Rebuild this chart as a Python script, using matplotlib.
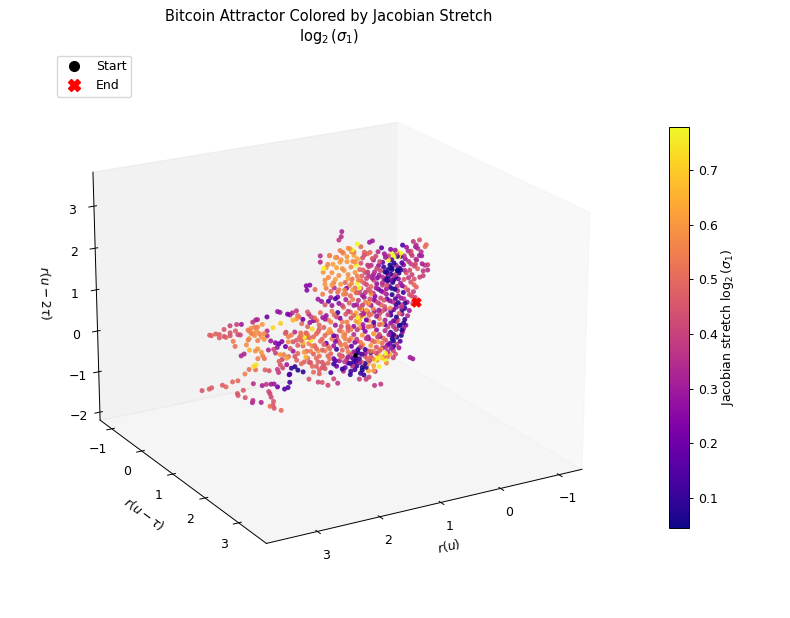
import numpy as np
import matplotlib
matplotlib.use("Agg")
import matplotlib.pyplot as plt

plt.rcParams["font.size"] = 9
plt.rcParams["axes.linewidth"] = 0.7
plt.rcParams["xtick.major.width"] = 0.7
plt.rcParams["ytick.major.width"] = 0.7
plt.rcParams["xtick.major.size"] = 3.1
plt.rcParams["ytick.major.size"] = 3.1

# values, grouped by region of the attractor
tail_x = [2.99, 2.87, 2.83, 2.65, 2.59, 2.48, 2.39, 2.40, 2.39, 2.30,
          2.27, 2.13, 2.14, 2.15, 2.00, 1.98, 1.91, 1.83, 1.78, 1.72,
          1.87, 1.85, 1.83, 1.79, 1.80, 1.85, 1.78, 1.66, 1.60, 1.54,
          1.51, 1.51]
tail_z = [-1.04, -1.04, -1.02, -1.01, -1.07, -0.98, -0.98, -1.29, -1.34, -1.24,
          -1.43, -1.13, -1.54, -1.59, -1.63, -1.22, -1.21, -1.23, -1.24, -1.33,
          -1.40, -1.46, -1.55, -1.67, -1.76, -1.77, -1.84, -1.93, -1.42, -1.40,
          -1.28, -1.08]
tail_c = [0.45, 0.47, 0.47, 0.47, 0.5, 0.5, 0.5, 0.45, 0.45, 0.47,
          0.45, 0.36, 0.36, 0.33, 0.33, 0.32, 0.38, 0.3, 0.3, 0.22,
          0.42, 0.42, 0.42, 0.45, 0.45, 0.52, 0.45, 0.5, 0.15, 0.15,
          0.12, 0.1]

wing_x = [2.85, 2.82, 2.75, 2.69, 2.69, 2.61, 2.61, 2.58, 2.51, 2.51,
          2.51, 2.40, 2.32, 2.42, 2.38, 2.34, 2.46, 2.43, 2.33, 2.28,
          2.24, 2.21, 2.21, 2.16, 2.13, 2.08, 2.05, 1.97, 2.10, 2.05,
          2.16, 2.10, 2.02, 1.94, 1.89, 1.79, 1.66, 1.89, 1.71, 1.67,
          1.54, 1.50, 1.46, 1.39, 1.37, 1.45, 1.39, 1.20, 1.16, 1.22,
          1.16, 1.21,
          2.19, 2.13, 2.19, 2.07, 1.99, 2.05, 1.94, 1.89, 1.57, 1.48,
          1.39, 1.31, 1.23, 1.28, 1.26, 1.42, 1.53, 1.64, 1.67, 1.75]
wing_z = [0.26, 0.24, 0.26, 0.23, 0.15, 0.33, 0.16, 0.13, 0.39, 0.22,
          0.15, 0.39, 0.37, 0.24, 0.14, 0.12, 0.0, -0.13, -0.39, -0.36,
          -0.15, -0.04, 0.20, 0.23, 0.37, 0.41, 0.41, 0.27, 0.24, 0.23,
          0.11, 0.04, 0.06, 0.04, 0.09, 0.14, 0.21, 0.43, 0.51, 0.48,
          0.40, 0.37, 0.41, 0.44, 0.32, 0.23, 0.24, 0.36, 0.09, 1.0,
          1.0, 0.89,
          0.18, 0.09, -0.01, 0.14, -0.03, -0.10, -0.10, -0.03, -0.03, -0.13,
          -0.28, -0.19, -0.15, -0.37, -0.85, -0.67, -0.64, -0.68, -0.80, -0.49]
wing_c = [0.48, 0.48, 0.48, 0.48, 0.48, 0.45, 0.45, 0.5, 0.4, 0.45,
          0.45, 0.4, 0.3, 0.48, 0.42, 0.42, 0.55, 0.52, 0.33, 0.33,
          0.58, 0.55, 0.55, 0.58, 0.37, 0.33, 0.35, 0.6, 0.55, 0.55,
          0.55, 0.57, 0.55, 0.57, 0.35, 0.72, 0.7, 0.2, 0.28, 0.3,
          0.22, 0.3, 0.35, 0.38, 0.55, 0.66, 0.6, 0.48, 0.28, 0.25,
          0.25, 0.25,
          0.55, 0.58, 0.6, 0.58, 0.6, 0.55, 0.6, 0.33, 0.45, 0.55,
          0.48, 0.55, 0.5, 0.65, 0.48, 0.45, 0.5, 0.42, 0.45, 0.4]

low_x = [2.19, 2.09, 2.05, 1.99, 1.97, 2.05, 1.94, 1.87, 1.83, 1.75,
         1.69, 1.64, 1.58, 1.50, 1.45, 1.37, 1.31, 1.23, 1.17, 1.26,
         1.23, 1.37, 1.39, 1.31, 1.17, 1.48, 1.42, 1.37, 1.28, 1.52,
         1.93, 1.86, 1.72, 1.70, 1.63, 1.56, 1.56, 1.69, 1.61, 2.12,
         2.08, 2.20, 2.09, 2.27, 1.78, 1.72, 1.67, 1.58, 1.53, 1.42,
         1.34, 1.45, 1.53]
low_z = [-0.29, -0.34, -0.30, -0.40, -0.49, -0.54, -0.57, -0.38, -0.17, -0.24,
         -0.28, -0.24, -0.38, -0.45, -0.53, -0.41, -0.31, -0.25, -0.28, -0.61,
         -0.74, -0.61, -0.77, -0.88, -0.89, -0.94, -0.92, -1.02, -1.09, -1.09,
         -0.85, -0.89, -0.90, -0.98, -0.89, -0.67, -0.83, -0.71, -0.57, -0.71,
         -0.68, -0.76, -0.80, -0.85, -0.39, -0.36, -0.55, -0.06, -0.15, -0.07,
         -0.22, -0.30, -0.28]
low_c = [0.66, 0.58, 0.6, 0.6, 0.55, 0.55, 0.52, 0.33, 0.3, 0.25,
         0.2, 0.25, 0.2, 0.45, 0.3, 0.48, 0.5, 0.48, 0.5, 0.6,
         0.65, 0.5, 0.48, 0.5, 0.45, 0.1, 0.08, 0.07, 0.08, 0.15,
         0.48, 0.45, 0.4, 0.38, 0.42, 0.62, 0.3, 0.48, 0.55, 0.72,
         0.74, 0.52, 0.52, 0.55, 0.4, 0.28, 0.6, 0.5, 0.55, 0.35,
         0.5, 0.45, 0.58]

patch_x = [0.93, 0.90, 0.85, 0.82, 0.78, 0.75, 0.72, 0.70, 0.66, 0.62,
           0.60, 0.57, 0.55, 0.52, 0.50, 0.47, 0.45, 0.43, 0.40, 0.38,
           0.88, 0.80, 0.74, 0.68, 0.63, 0.58, 0.53, 0.48, 0.42, 0.36,
           1.02, 0.96, 0.90, 0.84, 0.78, 0.72, 0.66, 0.60, 0.54, 0.48,
           0.70, 0.64, 0.58, 0.50, 0.44, 0.40, 0.34, 0.28, 0.22, 0.16,
           0.61, 0.62, 0.66, 0.08, 0.13, -0.64, -0.75, -0.87, -0.85, 1.07,
           0.98, 0.98, 0.82, -0.85, -0.90, -0.90, -0.79, -0.69, -0.82, -0.69,
           -0.60,
           0.88, 0.76, 0.64, 0.52, 0.42, 0.84, 0.72, 0.60, 0.50, 0.38,
           0.94, 0.80, 0.68, 0.56, 0.46, 0.90, 0.78, 0.66, 0.54, 0.44]
patch_z = [1.25, 1.05, 1.42, 1.62, 1.20, 0.95, 1.55, 1.30, 1.10, 1.47,
           1.65, 1.20, 0.90, 1.40, 1.08, 1.70, 1.25, 0.95, 1.52, 1.10,
           0.85, 0.75, 0.82, 0.70, 0.88, 0.62, 0.75, 0.80, 0.68, 0.60,
           0.62, 0.55, 0.45, 0.52, 0.40, 0.55, 0.42, 0.35, 0.48, 0.38,
           1.55, 1.70, 1.62, 1.72, 1.62, 1.60, 1.42, 1.70, 1.55, 1.50,
           2.15, 2.03, 1.96, 1.79, 1.77, 1.59, 1.60, 1.45, 1.41, 0.87,
           1.66, 1.51, 1.63, 0.95, 0.82, 0.95, 1.20, 1.14, 0.70, 1.49,
           1.36,
           1.35, 1.40, 1.42, 1.52, 1.38, 1.10, 1.02, 1.25, 0.98, 1.35,
           0.72, 0.60, 0.58, 0.72, 0.55, 0.95, 0.90, 0.75, 0.62, 0.85]
patch_c = [0.6, 0.58, 0.57, 0.55, 0.6, 0.55, 0.6, 0.62, 0.58, 0.6,
           0.55, 0.6, 0.5, 0.6, 0.58, 0.6, 0.58, 0.52, 0.62, 0.6,
           0.55, 0.5, 0.35, 0.5, 0.6, 0.55, 0.25, 0.55, 0.6, 0.5,
           0.3, 0.28, 0.45, 0.15, 0.3, 0.12, 0.28, 0.42, 0.33, 0.48,
           0.5, 0.55, 0.6, 0.58, 0.55, 0.55, 0.62, 0.5, 0.48, 0.5,
           0.33, 0.35, 0.38, 0.3, 0.3, 0.38, 0.45, 0.5, 0.52, 0.5,
           0.35, 0.35, 0.55, 0.38, 0.35, 0.4, 0.3, 0.35, 0.4, 0.35,
           0.45,
           0.6, 0.62, 0.6, 0.6, 0.58, 0.58, 0.62, 0.58, 0.62, 0.58,
           0.55, 0.3, 0.25, 0.55, 0.5, 0.6, 0.6, 0.55, 0.52, 0.58]

core_x = [0.25, 0.12, 0.02, -0.08, -0.20, -0.32, -0.45, -0.55, -0.68, -0.78,
          0.30, 0.20, 0.10, 0.00, -0.10, -0.20, -0.30, -0.40, -0.50, -0.60,
          -0.70, -0.80, 0.32, 0.22, 0.14, 0.05, -0.04, -0.14, -0.24, -0.33,
          -0.42, -0.52, -0.62, -0.72, -0.82, 0.35, 0.25, 0.15, 0.06, -0.03,
          -0.12, -0.22, -0.32, -0.42, -0.50, -0.60, -0.70, 0.40, 0.30, 0.20,
          0.10, 0.02, -0.08, -0.18, -0.28, -0.38, -0.48, -0.58, -0.68, 0.45,
          0.36, 0.27, 0.18, 0.09, 0.00, -0.10, -0.20, -0.30, -0.40, -0.50,
          -0.58, 0.50, 0.40, 0.30, 0.20, 0.10, 0.00, -0.10, -0.20, -0.30,
          -0.40, -0.50, 0.55, 0.44, 0.34, 0.24, 0.14, 0.04, -0.06, -0.16,
          -0.26, -0.36, -0.46, 0.50, 0.42, 0.32, 0.20, 0.10, 0.00, -0.10,
          -0.20, -0.30, -0.40, 0.55, 0.45, 0.35, 0.25, 0.15, 0.05, -0.05,
          -0.15, -0.30, -0.60, -0.65, 0.30, 0.18, 0.13, 0.03, -0.08]
core_z = [1.42, 1.52, 1.40, 1.58, 1.35, 1.46, 1.55, 1.38, 1.45, 1.30,
          1.15, 1.05, 1.20, 1.10, 1.22, 1.02, 1.15, 1.00, 1.20, 1.05,
          1.12, 1.00, 0.90, 0.80, 0.95, 0.82, 0.92, 0.78, 0.90, 0.80,
          0.95, 0.85, 0.78, 0.90, 0.82, 0.60, 0.50, 0.62, 0.50, 0.58,
          0.48, 0.60, 0.50, 0.62, 0.50, 0.60, 0.45, 0.30, 0.20, 0.32,
          0.22, 0.30, 0.18, 0.30, 0.20, 0.32, 0.22, 0.30, 0.20, 0.00,
          -0.10, 0.02, -0.12, 0.00, -0.08, 0.02, -0.10, 0.00, -0.12, -0.02,
          -0.10, -0.30, -0.42, -0.28, -0.40, -0.30, -0.42, -0.30, -0.40, -0.28,
          -0.42, -0.30, -0.62, -0.70, -0.60, -0.72, -0.60, -0.70, -0.60, -0.72,
          -0.62, -0.70, -0.60, -0.95, -1.00, -0.90, -1.02, -0.92, -1.00, -0.90,
          -1.02, -0.92, -0.98, -1.20, -1.32, -1.22, -1.35, -1.22, -1.30, -1.35,
          -1.20, -1.02, -1.28, -1.33, -1.56, -1.60, -1.56, -1.80, -1.80]
core_c = [0.45, 0.5, 0.42, 0.15, 0.4, 0.3, 0.15, 0.35, 0.3, 0.35,
          0.5, 0.42, 0.35, 0.4, 0.2, 0.07, 0.07, 0.1, 0.3, 0.4,
          0.35, 0.32, 0.55, 0.45, 0.35, 0.42, 0.3, 0.1, 0.05, 0.07,
          0.08, 0.45, 0.4, 0.48, 0.38, 0.4, 0.3, 0.45, 0.35, 0.2,
          0.38, 0.12, 0.05, 0.3, 0.5, 0.45, 0.48, 0.3, 0.45, 0.55,
          0.28, 0.42, 0.5, 0.2, 0.36, 0.3, 0.35, 0.45, 0.42, 0.45,
          0.6, 0.35, 0.2, 0.52, 0.3, 0.45, 0.38, 0.22, 0.5, 0.12,
          0.3, 0.5, 0.35, 0.6, 0.25, 0.55, 0.28, 0.6, 0.4, 0.18,
          0.08, 0.1, 0.55, 0.2, 0.4, 0.58, 0.3, 0.5, 0.25, 0.45,
          0.1, 0.07, 0.3, 0.3, 0.15, 0.12, 0.45, 0.55, 0.4, 0.3,
          0.35, 0.08, 0.3, 0.2, 0.12, 0.1, 0.07, 0.6, 0.62, 0.78,
          0.78, 0.4, 0.3, 0.3, 0.4, 0.4, 0.4, 0.38, 0.38]

dense_x = [0.28, 0.16, 0.06, -0.05, -0.15, -0.26, -0.36, -0.48, -0.62, -0.75,
           0.34, 0.26, 0.16, 0.06, -0.06, -0.17, -0.27, -0.37, -0.47, -0.66,
           0.38, 0.28, 0.18, 0.10, 0.00, -0.10, -0.19, -0.28, -0.38, -0.48,
           -0.56, -0.66, -0.76, 0.42, 0.32, 0.22, 0.12, 0.03, -0.07, -0.17,
           -0.27, -0.37, -0.47, -0.55, -0.65, 0.46, 0.36, 0.26, 0.16, 0.06,
           -0.04, -0.14, -0.24, -0.34, -0.44, -0.54, -0.64, 0.50, 0.40, 0.32,
           0.24, 0.14, 0.05, -0.05, -0.15, -0.25, -0.35, -0.45, -0.55, 0.45,
           0.35, 0.25, 0.15, 0.05, -0.05, -0.15, -0.25, -0.35, -0.45, -0.52,
           0.50, 0.40, 0.30, 0.20, 0.10, 0.00, -0.10, -0.20, -0.30, -0.42,
           0.46, 0.36, 0.26, 0.16, 0.06, -0.04, -0.14, -0.24, -0.34, 0.56]
dense_z = [1.30, 1.22, 1.32, 1.25, 1.33, 1.24, 1.30, 1.28, 1.25, 1.22,
           1.00, 0.98, 1.05, 0.96, 1.03, 0.95, 1.00, 0.95, 1.06, 0.98,
           0.72, 0.68, 0.75, 0.68, 0.72, 0.66, 0.74, 0.68, 0.74, 0.70,
           0.72, 0.66, 0.68, 0.45, 0.40, 0.45, 0.38, 0.42, 0.35, 0.42,
           0.38, 0.45, 0.38, 0.42, 0.35, 0.15, 0.10, 0.15, 0.08, 0.12,
           0.06, 0.12, 0.05, 0.12, 0.08, 0.12, 0.06, -0.18, -0.22, -0.15,
           -0.22, -0.15, -0.22, -0.15, -0.22, -0.12, -0.20, -0.15, -0.22, -0.50,
           -0.55, -0.48, -0.55, -0.50, -0.55, -0.48, -0.55, -0.50, -0.55, -0.45,
           -0.82, -0.85, -0.78, -0.85, -0.78, -0.85, -0.78, -0.85, -0.78, -0.82,
           -1.12, -1.10, -1.15, -1.10, -1.12, -1.05, -1.12, -1.10, -1.12, -1.05]
dense_c = [0.45, 0.38, 0.3, 0.42, 0.3, 0.15, 0.12, 0.38, 0.4, 0.3,
           0.55, 0.48, 0.38, 0.3, 0.42, 0.08, 0.06, 0.05, 0.25, 0.42,
           0.52, 0.35, 0.42, 0.5, 0.28, 0.4, 0.08, 0.06, 0.25, 0.45,
           0.38, 0.45, 0.4, 0.55, 0.38, 0.3, 0.45, 0.25, 0.42, 0.3,
           0.08, 0.35, 0.12, 0.42, 0.4, 0.5, 0.62, 0.35, 0.45, 0.55,
           0.3, 0.45, 0.55, 0.12, 0.38, 0.3, 0.42, 0.48, 0.28, 0.62,
           0.3, 0.58, 0.15, 0.55, 0.32, 0.1, 0.07, 0.28, 0.35, 0.58,
           0.4, 0.6, 0.3, 0.62, 0.42, 0.35, 0.12, 0.06, 0.07, 0.25,
           0.55, 0.3, 0.38, 0.12, 0.6, 0.45, 0.5, 0.2, 0.06, 0.15,
           0.12, 0.15, 0.45, 0.5, 0.58, 0.72, 0.5, 0.62, 0.45, 0.38]

fill_x = [0.22, 0.08, -0.02, -0.13, -0.24, -0.35, -0.42, -0.52, -0.60, -0.72,
          0.24, 0.14, 0.04, -0.03, -0.12, -0.23, -0.34, -0.44, -0.56, -0.68,
          0.27, 0.18, 0.08, -0.01, -0.10, -0.20, -0.29, -0.39, -0.49, -0.58,
          0.30, 0.20, 0.11, 0.01, -0.08, -0.17, -0.26, -0.36, -0.45, -0.66,
          0.35, 0.25, 0.14, 0.05, -0.03, -0.13, -0.23, -0.33, -0.43, -0.62,
          0.40, 0.31, 0.23, 0.13, 0.04, -0.05, -0.15, -0.25, -0.35, -0.45,
          0.45, 0.34, 0.24, 0.15, 0.05, -0.05, -0.15, -0.25, -0.35, -0.48,
          0.48, 0.38, 0.28, 0.18, 0.08, -0.02, -0.12, -0.22, -0.32, -0.44,
          0.46, 0.36, 0.26, 0.15, 0.05, -0.06, -0.16, -0.26, -0.36, -0.28,
          0.40, 0.30, 0.20, 0.10, -0.01, -0.10, -0.20, -0.30, 0.50, 0.60,
          0.05, 0.28, 0.14, 0.22, -0.18, 0.02, 0.38, 0.46, 0.58, 0.52,
          -0.38, -0.44, -0.50, -0.34, -0.42, -0.48, -0.30, -0.38, -0.24, -0.30,
          -0.14, -0.20, -0.26, -0.32, -0.16, -0.24, -0.30, -0.36, -0.10, -0.18,
          0.25, 0.30, 0.18, 0.12, 0.36, 0.42, 0.33, 0.27, 0.10, 0.20,
          0.28, 0.22, 0.30, 0.26, 0.18, 0.10, 0.14, 0.05, -0.03, -0.08]
fill_z = [1.48, 1.36, 1.50, 1.42, 1.50, 1.38, 1.28, 1.48, 1.30, 1.40,
          1.12, 1.18, 1.02, 1.16, 1.10, 1.12, 1.08, 1.12, 1.12, 1.02,
          0.86, 0.90, 0.88, 0.86, 0.86, 0.85, 0.84, 0.88, 0.92, 0.90,
          0.58, 0.56, 0.56, 0.62, 0.52, 0.55, 0.54, 0.56, 0.55, 0.52,
          0.30, 0.26, 0.26, 0.34, 0.24, 0.28, 0.24, 0.26, 0.25, 0.25,
          0.05, -0.02, 0.05, -0.02, 0.05, -0.03, 0.05, -0.03, 0.05, -0.05,
          -0.28, -0.32, -0.30, -0.30, -0.30, -0.30, -0.33, -0.32, -0.32, -0.38,
          -0.55, -0.62, -0.65, -0.58, -0.66, -0.60, -0.66, -0.60, -0.66, -0.68,
          -0.90, -0.88, -0.95, -0.90, -0.94, -0.95, -0.90, -0.95, -0.88, -0.72,
          -1.10, -1.05, -1.20, -1.05, -1.18, -1.15, -1.15, -1.20, -1.10, -0.90,
          -1.42, -1.42, -1.40, -1.48, -1.30, -1.45, -1.30, -1.40, -1.28, -0.70,
          0.15, 0.02, 0.10, -0.50, -0.42, -0.52, -0.62, -0.28, -0.82, -0.42,
          0.98, 0.90, 1.05, 0.86, 0.80, 0.75, 0.74, 0.95, 0.72, 0.64,
          -1.28, -1.15, -1.30, -1.15, -1.02, -1.20, -0.82, -0.75, -0.95, -0.95,
          0.18, 0.02, -0.10, -0.02, 0.12, 0.50, 0.30, -0.50, -0.72, -0.92]
fill_c = [0.42, 0.45, 0.35, 0.3, 0.25, 0.4, 0.2, 0.3, 0.4, 0.35,
          0.48, 0.4, 0.35, 0.28, 0.12, 0.06, 0.3, 0.15, 0.38, 0.42,
          0.5, 0.42, 0.3, 0.25, 0.35, 0.06, 0.35, 0.08, 0.35, 0.42,
          0.42, 0.38, 0.48, 0.3, 0.25, 0.3, 0.08, 0.4, 0.25, 0.5,
          0.32, 0.4, 0.5, 0.28, 0.38, 0.45, 0.28, 0.15, 0.3, 0.42,
          0.5, 0.55, 0.3, 0.5, 0.28, 0.42, 0.35, 0.15, 0.3, 0.08,
          0.55, 0.4, 0.25, 0.5, 0.32, 0.48, 0.2, 0.28, 0.38, 0.08,
          0.5, 0.25, 0.55, 0.35, 0.5, 0.4, 0.52, 0.3, 0.4, 0.06,
          0.4, 0.1, 0.12, 0.45, 0.55, 0.48, 0.35, 0.3, 0.38, 0.07,
          0.1, 0.15, 0.08, 0.48, 0.6, 0.7, 0.55, 0.4, 0.12, 0.4,
          0.6, 0.12, 0.62, 0.1, 0.58, 0.38, 0.12, 0.1, 0.35, 0.48,
          0.07, 0.35, 0.08, 0.42, 0.07, 0.3, 0.08, 0.45, 0.2, 0.38,
          0.07, 0.3, 0.05, 0.4, 0.05, 0.25, 0.07, 0.05, 0.35, 0.45,
          0.07, 0.3, 0.08, 0.42, 0.1, 0.35, 0.1, 0.45, 0.08, 0.3,
          0.7, 0.65, 0.68, 0.72, 0.62, 0.6, 0.6, 0.6, 0.65, 0.62]

flank_x = [1.30, 1.20, 1.10, 1.00, 0.90, 0.80, 0.70, 0.60,
           1.25, 1.15, 1.05, 0.95, 0.85, 0.75, 0.65,
           1.22, 1.12, 1.02, 0.92, 0.82, 0.72, 0.62,
           1.15, 1.05, 0.95, 0.85, 0.75, 0.65,
           1.10, 1.00, 0.90, 0.80, 0.70, 0.60,
           0.95, 0.85, 0.75, 0.68, 1.02, 1.18,
           1.35, 1.28, 1.18, 1.08, 0.98, 0.88, 0.78, 0.68, 0.58, 0.50,
           1.32, 1.22, 1.12, 1.02, 0.92, 0.82, 0.72, 0.62, 0.52, 0.56,
           1.28, 1.18, 1.08, 0.98, 0.88, 0.78, 0.68, 0.58, 1.20, 1.10,
           1.00, 0.90, 0.80, 0.70, 0.60, 1.05, 0.95, 0.85, 0.75, 0.65,
           1.14, 1.04, 0.94, 0.84, 0.74, 0.64, 0.54, 1.20, 1.10, 1.00,
           0.90, 0.80, 0.70, 0.60, 0.50, 1.15, 1.05, 0.95, 0.85, 0.75,
           0.65, 0.55, 1.12, 1.02, 0.92, 0.82, 0.72, 0.62, 0.52, 1.00]
flank_z = [0.10, 0.00, 0.12, -0.02, 0.10, 0.00, 0.10, -0.05,
           -0.25, -0.35, -0.22, -0.38, -0.25, -0.35, -0.25,
           -0.60, -0.50, -0.65, -0.52, -0.65, -0.50, -0.62,
           -0.90, -0.82, -0.95, -0.82, -0.92, -0.85,
           -1.15, -1.22, -1.12, -1.25, -1.12, -1.22,
           -1.45, -1.55, -1.42, -1.55, -1.42, -1.30,
           0.28, 0.20, 0.30, 0.18, 0.28, 0.18, 0.26, 0.20, 0.30, 0.18,
           -0.12, -0.15, -0.08, -0.18, -0.10, -0.18, -0.10, -0.16, -0.08, -0.38,
           -0.45, -0.42, -0.50, -0.42, -0.50, -0.42, -0.48, -0.42, -0.78, -0.70,
           -0.78, -0.68, -0.78, -0.70, -0.75, -1.02, -1.08, -1.00, -1.05, -1.00,
           0.22, 0.10, 0.15, 0.06, 0.16, 0.05, 0.12, -0.20, -0.28, -0.12,
           -0.30, -0.25, -0.38, -0.30, -0.22, -0.62, -0.58, -0.65, -0.58, -0.60,
           -0.55, -0.48, -1.00, -0.92, -1.02, -0.90, -0.98, -0.92, -1.00, -1.12]
flank_c = [0.5, 0.48, 0.25, 0.5, 0.3, 0.55, 0.42, 0.55,
           0.6, 0.75, 0.5, 0.5, 0.58, 0.2, 0.5,
           0.5, 0.55, 0.6, 0.48, 0.5, 0.25, 0.55,
           0.48, 0.5, 0.45, 0.5, 0.2, 0.45,
           0.5, 0.48, 0.45, 0.15, 0.2, 0.1,
           0.45, 0.42, 0.42, 0.38, 0.42, 0.45,
           0.48, 0.2, 0.35, 0.5, 0.52, 0.28, 0.55, 0.12, 0.5, 0.4,
           0.52, 0.55, 0.72, 0.5, 0.48, 0.6, 0.3, 0.45, 0.55, 0.5,
           0.5, 0.55, 0.48, 0.5, 0.2, 0.55, 0.48, 0.58, 0.5, 0.48,
           0.52, 0.55, 0.48, 0.1, 0.5, 0.48, 0.45, 0.5, 0.12, 0.3,
           0.42, 0.5, 0.3, 0.55, 0.5, 0.25, 0.45, 0.55, 0.5, 0.48,
           0.5, 0.55, 0.35, 0.6, 0.45, 0.55, 0.5, 0.48, 0.52, 0.3,
           0.5, 0.55, 0.5, 0.48, 0.45, 0.52, 0.15, 0.5, 0.35, 0.48]

bright_x = [-0.20, -0.26, -0.30, -0.34, -0.38, -0.42, 0.34, 0.43, 0.36, 0.92,
            0.34, 0.30, -0.03, 0.03, -0.16, 0.33, 0.30, 1.26]
bright_z = [1.25, 1.38, 1.30, 1.44, 1.28, 1.36, 1.78, 1.66, 1.27, 1.34,
            0.83, 0.70, -1.12, -1.16, -1.05, -0.02, -0.10, -0.24]
bright_c = [0.78] * 18

start_point = (0.18, 0.0, -0.93)
end_point = (-0.89, 0.0, 0.07)

# the whole cloud sits a little further along -x than first read
r_u = np.array(tail_x + wing_x + low_x + patch_x + core_x + dense_x + fill_x + flank_x + bright_x) - 0.2
r_2tau = np.array(tail_z + wing_z + low_z + patch_z + core_z + dense_z + fill_z + flank_z + bright_z)
stretch = np.array(tail_c + wing_c + low_c + patch_c + core_c + dense_c + fill_c + flank_c + bright_c)
r_tau = np.zeros_like(r_u)

fig = plt.figure(figsize=(7.9, 6.18), dpi=100)
ax = fig.add_axes([0.006, 0.02, 0.82, 0.9], projection="3d", computed_zorder=False)

sc = ax.scatter(r_u, r_tau, r_2tau, c=stretch, cmap="plasma", s=13, alpha=0.9,
                vmin=0.045, vmax=0.78, depthshade=False, linewidths=0, zorder=2)
ax.scatter(*start_point, color="black", s=5, zorder=3)
ax.scatter(*end_point, color="red", marker="X", s=40, zorder=3)

ax.set_xlim(-1.4, 3.8)
ax.set_ylim(-1.4, 3.8)
ax.set_zlim(-2.2, 3.8)
ax.set_xticks([-1, 0, 1, 2, 3])
ax.set_yticks([-1, 0, 1, 2, 3])
ax.set_zticks([-2, -1, 0, 1, 2, 3])
ax.tick_params(pad=1.5)
ax.grid(False)
ax.view_init(elev=20, azim=60)

ax.set_xlabel(r"$r(u)$", labelpad=1)
ax.set_ylabel(r"$r(u-\tau)$", labelpad=2)
ax.set_zlabel(r"$r(u-2\tau)$", labelpad=2)
fig.suptitle("Bitcoin Attractor Colored by Jacobian Stretch\n" + r"$\log_2(\sigma_1)$",
             x=0.416, y=0.985, fontsize=10.5)

start_h = plt.Line2D([], [], linestyle="", marker="o", color="black", markersize=7)
end_h = plt.Line2D([], [], linestyle="", marker="X", color="red", markersize=8)
fig.legend([start_h, end_h], ["Start", "End"], loc="upper left",
           bbox_to_anchor=(0.064, 0.92), fontsize=9, borderpad=0.35)

cax = fig.add_axes([0.847, 0.146, 0.025, 0.649])
cbar = fig.colorbar(sc, cax=cax)
cbar.solids.set_alpha(1)
cbar.set_label(r"Jacobian stretch $\log_2(\sigma_1)$", labelpad=1)

fig.savefig("out.png", dpi=100)
